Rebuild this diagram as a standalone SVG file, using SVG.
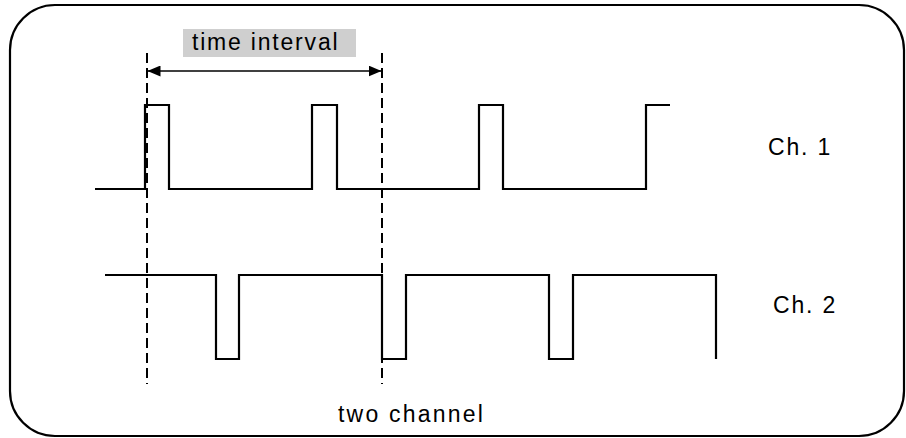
<svg xmlns="http://www.w3.org/2000/svg" width="906" height="438" viewBox="0 0 906 438">
<style>
.wave{fill:none;stroke:#000;stroke-width:2.2}
.dash{fill:none;stroke:#000;stroke-width:2;stroke-dasharray:10 5}
.lbl{font-family:"Liberation Sans",Arial,sans-serif;font-size:23px;letter-spacing:1.8px;fill:#000}
</style>
<defs>
<marker id="ah" viewBox="0 0 13 11" refX="13" refY="5.5" markerWidth="13" markerHeight="11" markerUnits="userSpaceOnUse" orient="auto-start-reverse">
<path d="M0,0 L13,5.5 L0,11 Z" fill="#000"/>
</marker>
</defs>
<rect id="frame" x="10" y="5" width="894" height="431" rx="45" ry="45" fill="#fff" stroke="#000" stroke-width="2.2"/>
<g id="ch1">
<path class="wave" d="M95 189 H145 V105 H169 V189 H312 V105 H337 V189 H479 V105 H503 V189 H646 V105 H670"/>
<text class="lbl" x="768" y="155">Ch. 1</text>
</g>
<g id="ch2">
<path class="wave" d="M105 275 H216 V359 H239 V275 H382 V359 H406 V275 H549 V359 H573 V275 H716 V359"/>
<text class="lbl" x="773" y="313">Ch. 2</text>
</g>
<g id="interval-label">
<rect x="183" y="29" width="173" height="28" fill="#cfcfcf"/>
<text class="lbl" x="192" y="50">time interval</text>
</g>
<g id="connectors">
<line class="dash" x1="147" y1="53" x2="147" y2="384"/>
<line class="dash" x1="382" y1="53" x2="382" y2="384"/>
<line x1="147.5" y1="71" x2="381.5" y2="71" stroke="#000" stroke-width="1.6" marker-start="url(#ah)" marker-end="url(#ah)"/>
</g>
<g id="caption">
<text class="lbl" x="338" y="422" style="letter-spacing:2.2px">two channel</text>
</g>
</svg>
